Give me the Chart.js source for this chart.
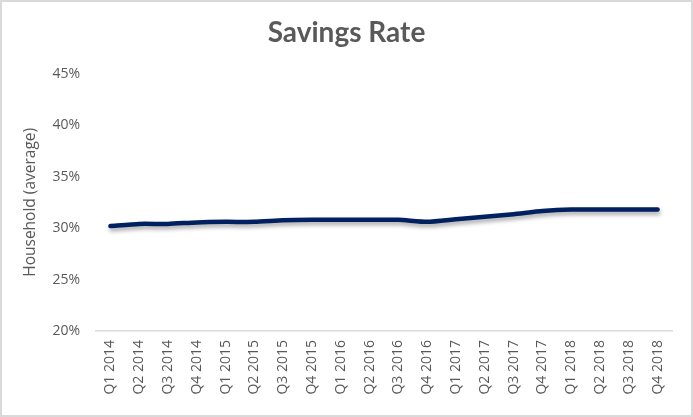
<!DOCTYPE html>
<html>
<head>
<meta charset="utf-8">
<script src="https://cdn.jsdelivr.net/npm/chart.js@4.4.1/dist/chart.umd.min.js"></script>
<style>
    html, body { margin: 0; padding: 0; background: #fff; }
    #wrap { position: relative; width: 693px; height: 417px; }
    #frame { position: absolute; left: 0; top: 0; width: 693px; height: 417px; box-sizing: border-box; border: 2px solid #d9d9d9; pointer-events: none; }
</style>
</head>
<body>
<div id="wrap">
    <canvas id="savingsChart" width="693" height="417"></canvas>
    <div id="frame"></div>
</div>
<script>
    // data
    let quarters = ['Q1 2014', 'Q2 2014', 'Q3 2014', 'Q4 2014', 'Q1 2015', 'Q2 2015', 'Q3 2015', 'Q4 2015', 'Q1 2016', 'Q2 2016', 'Q3 2016', 'Q4 2016', 'Q1 2017', 'Q2 2017', 'Q3 2017', 'Q4 2017', 'Q1 2018', 'Q2 2018', 'Q3 2018', 'Q4 2018'];
    let householdRate = [30.2, 30.4, 30.4, 30.55, 30.6, 30.6, 30.75, 30.8, 30.8, 30.8, 30.8, 30.6, 30.85, 31.1, 31.35, 31.65, 31.8, 31.8, 31.8, 31.8];
    let yTicks = [20, 25, 30, 35, 40, 45];

    let textGrey = '#595959';

    // soft shadow under the line, like the spreadsheet one
    let lineShadow = {
        id : 'lineShadow',
        beforeDatasetsDraw(chart){
            let ctx = chart.ctx;
            ctx.save();
            ctx.shadowColor = 'rgba(0, 0, 0, 0.35)';
            ctx.shadowBlur = 4;
            ctx.shadowOffsetX = 1;
            ctx.shadowOffsetY = 3;
        },
        afterDatasetsDraw(chart){
            chart.ctx.restore();
        }
    };

    let config = {
        type : 'line',
        data : {
            labels : quarters,
            datasets : [{
                data : householdRate,
                borderColor : '#002060',
                borderWidth : 4.5,
                borderCapStyle : 'round',
                borderJoinStyle : 'round',
                pointRadius : 0,
                tension : 0.2,
                fill : false
            }]
        },
        options : {
            responsive : false,
            animation : false,
            layout : {
                padding : {top : 0, left : 21, right : 21, bottom : 0}
            },
            plugins : {
                legend : {display : false},
                tooltip : {enabled : false},
                title : {
                    display : true,
                    text : 'Savings Rate',
                    color : textGrey,
                    font : {family : 'Lato', size : 28, weight : 'bold'},
                    padding : {top : 16, bottom : 24}
                }
            },
            scales : {
                x : {
                    offset : true,
                    grid : {display : false, drawTicks : false},
                    border : {display : true, color : '#d9d9d9', width : 1.5},
                    ticks : {
                        color : textGrey,
                        font : {family : 'Open Sans', size : 14},
                        minRotation : 90,
                        maxRotation : 90,
                        padding : 9,
                        autoSkip : false
                    },
                    afterFit(scale){ scale.height = 86; }
                },
                y : {
                    min : 20,
                    max : 45,
                    grid : {display : false, drawTicks : false},
                    border : {display : false},
                    afterBuildTicks(scale){
                        scale.ticks = yTicks.map(v => ({value : v}));
                    },
                    ticks : {
                        color : textGrey,
                        font : {family : 'Open Sans', size : 14},
                        padding : 16,
                        callback : v => v + '%'
                    },
                    title : {
                        display : true,
                        text : 'Household (average)',
                        color : textGrey,
                        font : {family : 'Open Sans', size : 15.5},
                        padding : {top : 0, bottom : 0}
                    },
                    afterFit(scale){ scale.width = 75; }
                }
            }
        },
        plugins : [lineShadow]
    };

    let chart = new Chart(document.getElementById('savingsChart').getContext('2d'), config);
</script>
</body>
</html>
